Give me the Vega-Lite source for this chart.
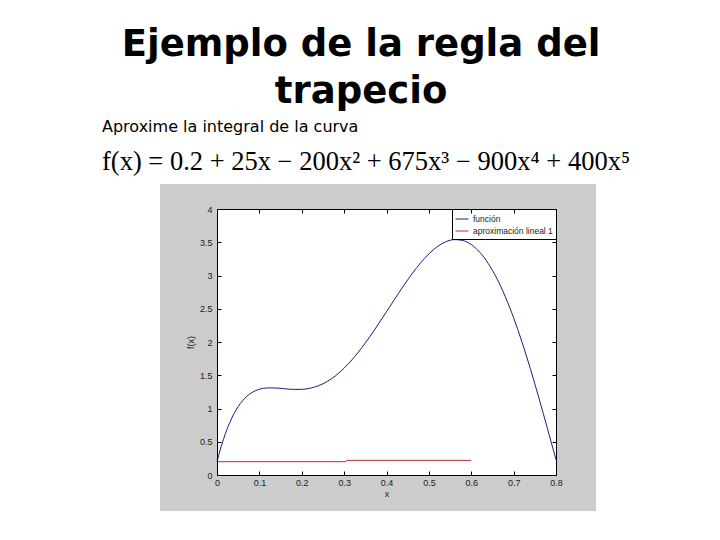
{
  "$schema": "https://vega.github.io/schema/vega-lite/v6.json",
  "background": "white",
  "padding": {"left": 102, "top": 26, "right": 0, "bottom": 0},
  "title": {
    "text": ["Ejemplo de la regla del", "trapecio"],
    "font": "DejaVu Sans",
    "fontSize": 37,
    "fontWeight": "bold",
    "color": "black",
    "anchor": "middle",
    "lineHeight": 47,
    "offset": 8,
    "dx": -5
  },
  "datasets": {
    "curvas": [
      {"x": 0.0, "y": 0.2, "serie": "función", "tramo": "f"},
      {"x": 0.01, "y": 0.4307, "serie": "función", "tramo": "f"},
      {"x": 0.02, "y": 0.6253, "serie": "función", "tramo": "f"},
      {"x": 0.03, "y": 0.7875, "serie": "función", "tramo": "f"},
      {"x": 0.04, "y": 0.9209, "serie": "función", "tramo": "f"},
      {"x": 0.05, "y": 1.0289, "serie": "función", "tramo": "f"},
      {"x": 0.06, "y": 1.1145, "serie": "función", "tramo": "f"},
      {"x": 0.08, "y": 1.2300, "serie": "función", "tramo": "f"},
      {"x": 0.10, "y": 1.2890, "serie": "función", "tramo": "f"},
      {"x": 0.12, "y": 1.3097, "serie": "función", "tramo": "f"},
      {"x": 0.14, "y": 1.3080, "serie": "función", "tramo": "f"},
      {"x": 0.16, "y": 1.2969, "serie": "función", "tramo": "f"},
      {"x": 0.18, "y": 1.2874, "serie": "función", "tramo": "f"},
      {"x": 0.20, "y": 1.2880, "serie": "función", "tramo": "f"},
      {"x": 0.22, "y": 1.3052, "serie": "función", "tramo": "f"},
      {"x": 0.24, "y": 1.3437, "serie": "función", "tramo": "f"},
      {"x": 0.26, "y": 1.4063, "serie": "función", "tramo": "f"},
      {"x": 0.28, "y": 1.4941, "serie": "función", "tramo": "f"},
      {"x": 0.30, "y": 1.6070, "serie": "función", "tramo": "f"},
      {"x": 0.32, "y": 1.7434, "serie": "función", "tramo": "f"},
      {"x": 0.34, "y": 1.9006, "serie": "función", "tramo": "f"},
      {"x": 0.36, "y": 2.0749, "serie": "función", "tramo": "f"},
      {"x": 0.38, "y": 2.2618, "serie": "función", "tramo": "f"},
      {"x": 0.40, "y": 2.4560, "serie": "función", "tramo": "f"},
      {"x": 0.42, "y": 2.6518, "serie": "función", "tramo": "f"},
      {"x": 0.44, "y": 2.8430, "serie": "función", "tramo": "f"},
      {"x": 0.46, "y": 3.0232, "serie": "función", "tramo": "f"},
      {"x": 0.48, "y": 3.1860, "serie": "función", "tramo": "f"},
      {"x": 0.50, "y": 3.3250, "serie": "función", "tramo": "f"},
      {"x": 0.52, "y": 3.4340, "serie": "función", "tramo": "f"},
      {"x": 0.54, "y": 3.5073, "serie": "función", "tramo": "f"},
      {"x": 0.56, "y": 3.5396, "serie": "función", "tramo": "f"},
      {"x": 0.58, "y": 3.5264, "serie": "función", "tramo": "f"},
      {"x": 0.60, "y": 3.4640, "serie": "función", "tramo": "f"},
      {"x": 0.62, "y": 3.3497, "serie": "función", "tramo": "f"},
      {"x": 0.64, "y": 3.1819, "serie": "función", "tramo": "f"},
      {"x": 0.66, "y": 2.9605, "serie": "función", "tramo": "f"},
      {"x": 0.68, "y": 2.6866, "serie": "función", "tramo": "f"},
      {"x": 0.70, "y": 2.3630, "serie": "función", "tramo": "f"},
      {"x": 0.72, "y": 1.9944, "serie": "función", "tramo": "f"},
      {"x": 0.74, "y": 1.5873, "serie": "función", "tramo": "f"},
      {"x": 0.76, "y": 1.1502, "serie": "función", "tramo": "f"},
      {"x": 0.77, "y": 0.9238, "serie": "función", "tramo": "f"},
      {"x": 0.78, "y": 0.6941, "serie": "función", "tramo": "f"},
      {"x": 0.79, "y": 0.4629, "serie": "función", "tramo": "f"},
      {"x": 0.80, "y": 0.2320, "serie": "función", "tramo": "f"},
      {"x": 0.0, "y": 0.2, "serie": "aproximación lineal 1", "tramo": "a1"},
      {"x": 0.305, "y": 0.2, "serie": "aproximación lineal 1", "tramo": "a1"},
      {"x": 0.305, "y": 0.22, "serie": "aproximación lineal 1", "tramo": "a2"},
      {"x": 0.6, "y": 0.22, "serie": "aproximación lineal 1", "tramo": "a2"}
    ]
  },
  "vconcat": [
    {
      "width": 339,
      "height": 266,
      "title": {
        "text": "Aproxime la integral de la curva",
        "subtitle": "f(x) = 0.2 + 25x − 200x² + 675x³ − 900x⁴ + 400x⁵",
        "anchor": "start",
        "frame": "group",
        "dx": -115,
        "font": "DejaVu Sans",
        "fontSize": 16,
        "fontWeight": "normal",
        "color": "black",
        "subtitleFont": "Liberation Serif",
        "subtitleFontSize": 26.5,
        "subtitleColor": "black",
        "subtitlePadding": 14,
        "offset": 8
      },
      "layer": [
        {
          "data": {"values": [{}]},
          "mark": {"type": "rect", "fill": "#cccccc", "clip": false},
          "encoding": {
            "x": {"datum": -0.1345, "type": "quantitative", "scale": {"domain": [0, 0.8], "nice": false, "zero": false}, "axis": null},
            "x2": {"datum": 0.8944},
            "y": {"datum": -0.541, "type": "quantitative", "scale": {"domain": [0, 4], "nice": false, "zero": false}, "axis": null},
            "y2": {"datum": 4.376}
          }
        },
        {
          "data": {"values": [{}]},
          "mark": {"type": "rect", "fill": "white"},
          "encoding": {
            "x": {"datum": 0, "type": "quantitative", "scale": {"domain": [0, 0.8], "nice": false, "zero": false},
                  "axis": {"orient": "top", "zindex": 2, "labels": false, "title": null, "values": [0, 0.1, 0.2, 0.3, 0.4, 0.5, 0.6, 0.7, 0.8]}},
            "x2": {"datum": 0.8},
            "y": {"datum": 0, "type": "quantitative", "scale": {"domain": [0, 4], "nice": false, "zero": false},
                  "axis": {"orient": "right", "zindex": 2, "labels": false, "title": null, "values": [0, 0.5, 1, 1.5, 2, 2.5, 3, 3.5, 4]}},
            "y2": {"datum": 4}
          }
        },
        {
          "mark": {"type": "line", "strokeWidth": 1, "interpolate": "monotone"},
          "data": {"name": "curvas"},
          "encoding": {
            "x": {"field": "x", "type": "quantitative", "scale": {"domain": [0, 0.8], "nice": false, "zero": false},
                  "axis": {"orient": "bottom", "zindex": 2, "title": "x", "labelPadding": 7, "titlePadding": 2, "values": [0, 0.1, 0.2, 0.3, 0.4, 0.5, 0.6, 0.7, 0.8]}},
            "y": {"field": "y", "type": "quantitative", "scale": {"domain": [0, 4], "nice": false, "zero": false},
                  "axis": {"orient": "left", "zindex": 2, "title": "f(x)", "labelPadding": 9, "titlePadding": 4, "values": [0, 0.5, 1, 1.5, 2, 2.5, 3, 3.5, 4]}},
            "color": {"field": "serie", "type": "nominal",
                      "scale": {"domain": ["función", "aproximación lineal 1"], "range": ["#1c1c80", "#b03030"]},
                      "legend": {"title": null}},
            "detail": {"field": "tramo"}
          }
        }
      ],
      "resolve": {"axis": {"x": "independent", "y": "independent"}}
    }
  ],
  "resolve": {"scale": {"color": "independent"}, "legend": {"color": "independent"}},
  "config": {
    "view": {"stroke": null},
    "concat": {"spacing": 0},
    "axis": {
      "grid": false,
      "domainColor": "black",
      "domainWidth": 1,
      "tickColor": "black",
      "tickSize": -4,
      "labelFont": "Liberation Sans",
      "labelFontSize": 9,
      "labelColor": "#222222",
      "labelFlush": false,
      "labelOverlap": false,
      "format": "~g",
      "titleFont": "Liberation Sans",
      "titleFontSize": 9,
      "titleFontWeight": "normal",
      "titleColor": "#222222"
    },
    "legend": {
      "orient": "top-right",
      "offset": 0,
      "strokeColor": "black",
      "fillColor": "white",
      "padding": 3,
      "cornerRadius": 0,
      "symbolType": "stroke",
      "symbolSize": 169,
      "symbolStrokeWidth": 1,
      "labelFont": "Liberation Sans",
      "labelFontSize": 8.5,
      "labelColor": "#222222",
      "labelOffset": 4,
      "rowPadding": 0
    }
  }
}
